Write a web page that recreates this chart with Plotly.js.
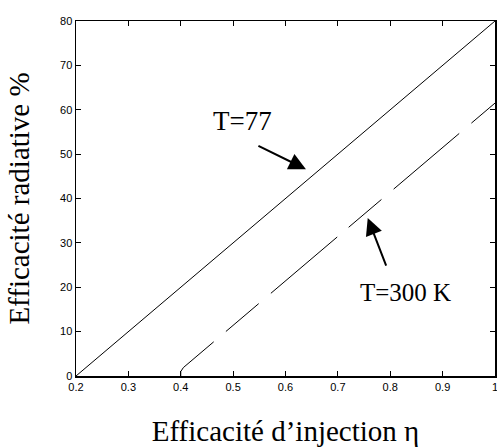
<!DOCTYPE html>
<html>
<head>
<meta charset="utf-8">
<script src="https://cdn.plot.ly/plotly-3.0.1.min.js"></script>
<style>html,body{margin:0;padding:0;background:#fff;}#chart{width:497px;height:447px;}</style>
</head>
<body>
<div id="chart"></div>
<script>
// Data
var injection77 = [0.2, 1.0];
var radiative77 = [0, 80];
var injection300 = [0.4, 0.4, 0.405, 1.0];
var radiative300 = [0, 1.0, 1.9, 61.5];
var xTickVals = [0.2, 0.3, 0.4, 0.5, 0.6, 0.7, 0.8, 0.9, 1.0];
var xTickText = ['0.2', '0.3', '0.4', '0.5', '0.6', '0.7', '0.8', '0.9', '1'];
var yTickVals = [0, 10, 20, 30, 40, 50, 60, 70, 80];
var labelT77 = 'T=77';
var labelT300 = 'T=300 K';

var traces = [
  {x: injection77, y: radiative77, mode: 'lines', type: 'scatter',
   line: {color: '#000', width: 1}, hoverinfo: 'skip'},
  {x: injection300, y: radiative300, mode: 'lines', type: 'scatter',
   line: {color: '#000', width: 1, dash: '49px,16px,43px,16px,87px,15px,43px,16px,86px,16px,80px'},
   hoverinfo: 'skip'}
];

var serif = 'Liberation Serif, Times New Roman, serif';
var layout = {
  width: 497, height: 447,
  margin: {l: 76, r: 2, t: 21, b: 71},
  paper_bgcolor: '#fff', plot_bgcolor: '#fff',
  showlegend: false,
  font: {family: 'Liberation Sans, Arial, sans-serif', size: 11, color: '#000'},
  xaxis: {
    range: [0.2, 1.0], tickvals: xTickVals, ticktext: xTickText,
    ticks: 'inside', ticklen: 5, tickwidth: 1, tickcolor: '#000',
    showline: true, linecolor: '#000', linewidth: 1.5, mirror: 'ticks',
    showgrid: false, zeroline: false, ticklabeloverflow: 'allow',
    tickfont: {family: 'Liberation Sans, Arial, sans-serif', size: 11, color: '#000'},
    title: {text: 'Efficacité d\u2019injection \u03b7', font: {family: serif, size: 29, color: '#000'}, standoff: 33}
  },
  yaxis: {
    range: [0, 80], tickvals: yTickVals,
    ticks: 'inside', ticklen: 5, tickwidth: 1, tickcolor: '#000',
    showline: true, linecolor: '#000', linewidth: 1.5, mirror: 'ticks',
    showgrid: false, zeroline: false,
    tickfont: {family: 'Liberation Sans, Arial, sans-serif', size: 11, color: '#000'},
    title: {text: 'Efficacité radiative %', font: {family: serif, size: 29, color: '#000'}, standoff: 22}
  },
  annotations: [
    {x: 0.517, y: 57.5, xref: 'x', yref: 'y', text: labelT77, showarrow: false,
     font: {family: serif, size: 27, color: '#000'}},
    {x: 0.830, y: 18.9, xref: 'x', yref: 'y', text: labelT300, showarrow: false,
     font: {family: serif, size: 25, color: '#000'}},
    {x: 0.639, y: 46.6, xref: 'x', yref: 'y', text: '', showarrow: true,
     ax: -49, ay: -24, arrowhead: 2, arrowsize: 1.7, arrowwidth: 2, arrowcolor: '#000'},
    {x: 0.757, y: 35.6, xref: 'x', yref: 'y', text: '', showarrow: true,
     ax: 19, ay: 49, arrowhead: 2, arrowsize: 1.7, arrowwidth: 2, arrowcolor: '#000'}
  ]
};

Plotly.newPlot('chart', traces, layout, {displayModeBar: false, staticPlot: true});
</script>
</body>
</html>
